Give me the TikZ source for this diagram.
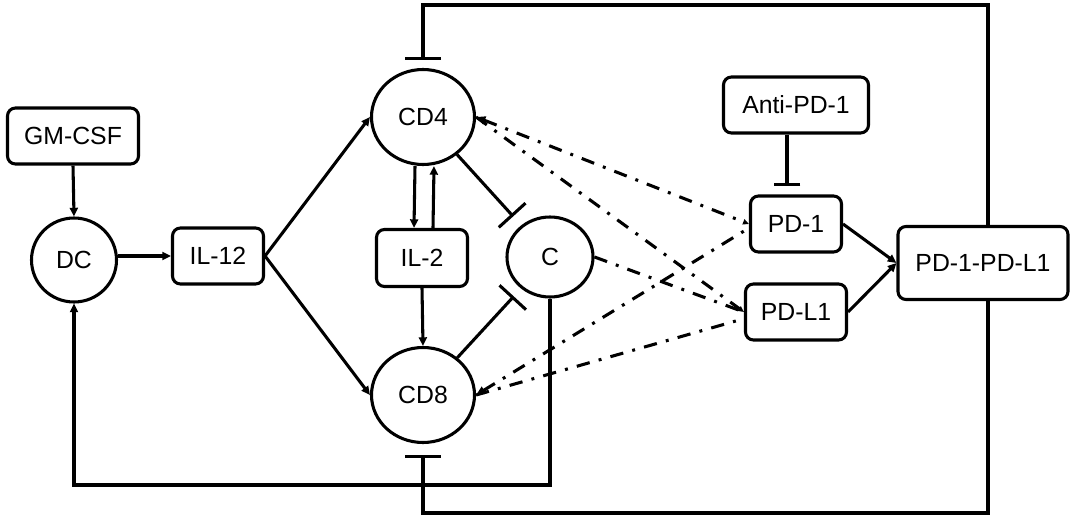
\documentclass[tikz,border=0pt]{standalone}
\usepackage{fontspec}
\setmainfont{Liberation Sans}
\usetikzlibrary{arrows.meta,shapes.geometric}

\begin{document}
\begin{tikzpicture}[x=0.75pt,y=-0.75pt,
  every node/.style={font=\fontsize{18.6}{22}\selectfont, line width=2.3pt, inner sep=0pt},
  box/.style={draw, rounded corners=6pt, minimum height=42pt},
  cell/.style={draw, ellipse},
  link/.style={line width=2.3pt},
  arr/.style={link, -{Triangle[length=6.5pt,width=6pt]}},
  inh/.style={link, -{Bar[width=27pt]}},
  dd/.style={link, dash pattern=on 10pt off 7pt on 2.2pt off 7pt},
  bigtip/.tip={Triangle[length=7pt,width=6pt]},
  smalltip/.tip={Triangle[length=4.5pt,width=4pt]}
]
\useasboundingbox (0,0) rectangle (1071,517);

% nodes
\node[box, minimum width=98.25pt] (gm) at (73,136) {GM-CSF};
\node[cell, minimum width=63.75pt, minimum height=63pt] (dc) at (74,260) {DC};
\node[box, minimum width=68.25pt] (il12) at (218,256) {IL-12};
\node[cell, minimum width=77.25pt, minimum height=71.25pt] (cd4) at (423,117) {CD4};
\node[box, minimum width=68.25pt, minimum height=42.75pt] (il2) at (422,258) {IL-2};
\node[cell, minimum width=64.5pt, minimum height=60pt] (c) at (550,257) {C};
\node[cell, minimum width=77.25pt, minimum height=71.25pt] (cd8) at (423,395) {CD8};
\node[box, minimum width=108.75pt] (anti) at (796,105) {Anti-PD-1};
\node[box, minimum width=68.25pt] (pd1) at (796,224) {PD-1};
\node[box, minimum width=75.75pt] (pdl1) at (796,312) {PD-L1};
\node[box, minimum width=127.5pt, minimum height=54.75pt] (cpx) at (983,263) {PD-1-PD-L1};

% routing points of the feedback loops
\coordinate (rx) at (988,0);
\coordinate (top) at (423,5);
\coordinate (bot) at (423,513);
\coordinate (dcb) at (74,485);
\coordinate (ax) at (787,0);

% activations
\draw[arr] (gm.south) -- (dc.north);
\draw[arr] (dc.east |- il12.west) -- (il12.west);
\draw[arr] (il12.east) -- (cd4.west);
\draw[arr] (il12.east) -- (cd8.west);
\draw[arr] ([xshift=-6pt]cd4.south) -- ([xshift=-6pt]il2.north);
\draw[arr] ([xshift=8.25pt]il2.north) -- ([xshift=8.25pt]cd4.south);
\draw[arr] (il2.south) -- (cd8.north);
\draw[arr] (pd1.east) -- (cpx.west);
\draw[arr] (pdl1.east) -- (cpx.west);
\draw[arr] (c.south) |- (dcb) -- (dc.south);

% inhibitions
\draw[inh, shorten >=9pt] (cd4) -- (c);
\draw[inh, shorten >=8pt] (cd8) -- (c);
\draw[inh, shorten >=6pt] (rx |- cpx.north) |- (top) -- (cd4.north);
\draw[inh, shorten >=8.25pt] (rx |- cpx.south) |- (bot) -- (cd8.south);
\draw[link, -{Bar[width=20pt]}, shorten >=6pt] (anti.south -| ax) -- (pd1.north -| ax);

% PD-1 / PD-L1 interactions
\draw[dd, {bigtip}-{smalltip}] (cd4.east) -- (pd1.west);
\draw[dd, -{smalltip}] (cd4.east) -- (pdl1.west);
\draw[dd, {bigtip}-] (cd8.east) -- ([yshift=-3pt]pd1.west);
\draw[dd] (cd8.east) -- ([yshift=-5pt]pdl1.west);
\draw[dd] (c.east) -- (pdl1.west);
\end{tikzpicture}
\end{document}
